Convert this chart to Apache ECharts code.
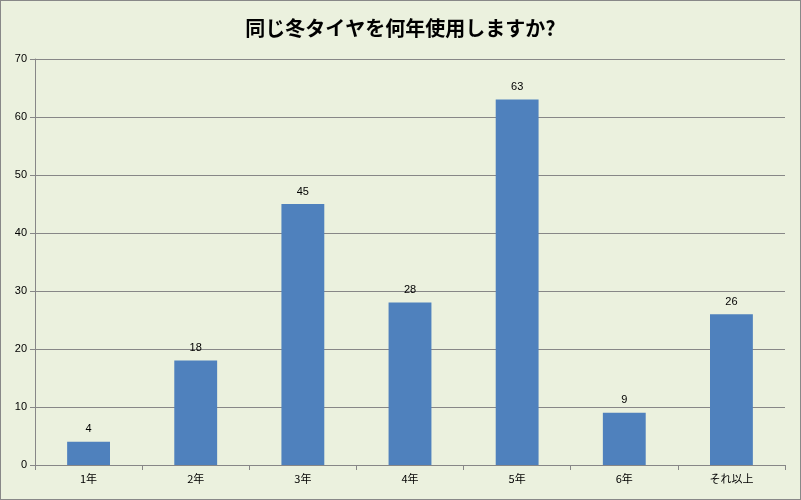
<!DOCTYPE html>
<html><head><meta charset="utf-8">
<script src="https://cdn.jsdelivr.net/npm/echarts@6/dist/echarts.min.js"></script>
<style>html,body{margin:0;padding:0;background:#EBF1DE}#c{width:801px;height:500px;box-sizing:border-box;border:1px solid #888}</style>
</head><body><div id="c"></div>
<script>
const categories=['1年','2年','3年','4年','5年','6年','それ以上'];
const values=[4,18,45,28,63,9,26];
const chart=echarts.init(document.getElementById('c'));
chart.setOption({
 backgroundColor:'#EBF1DE',
 animation:false,
 title:{text:'同じ冬タイヤを何年使用しますか?',left:'center',top:12,textStyle:{fontFamily:'Noto Sans CJK JP',fontSize:20,fontWeight:'bold',color:'#000'}},
 grid:{left:34,right:15,top:58,bottom:34},
 xAxis:{type:'category',data:categories,axisTick:{show:true,lineStyle:{color:'#878787'}},axisLine:{lineStyle:{color:'#878787'}},axisLabel:{color:'#000',fontSize:11,fontFamily:'Noto Sans CJK JP'}},
 yAxis:{type:'value',min:0,max:70,interval:10,axisLine:{show:true,lineStyle:{color:'#878787'}},axisTick:{show:true,lineStyle:{color:'#878787'}},splitLine:{lineStyle:{color:'#878787'}},axisLabel:{color:'#000',fontSize:11}},
 series:[{type:'bar',data:values,barWidth:'40%',itemStyle:{color:'#4F81BD'},label:{show:true,position:'top',distance:7,color:'#000',fontSize:11}}]
});
</script></body></html>
